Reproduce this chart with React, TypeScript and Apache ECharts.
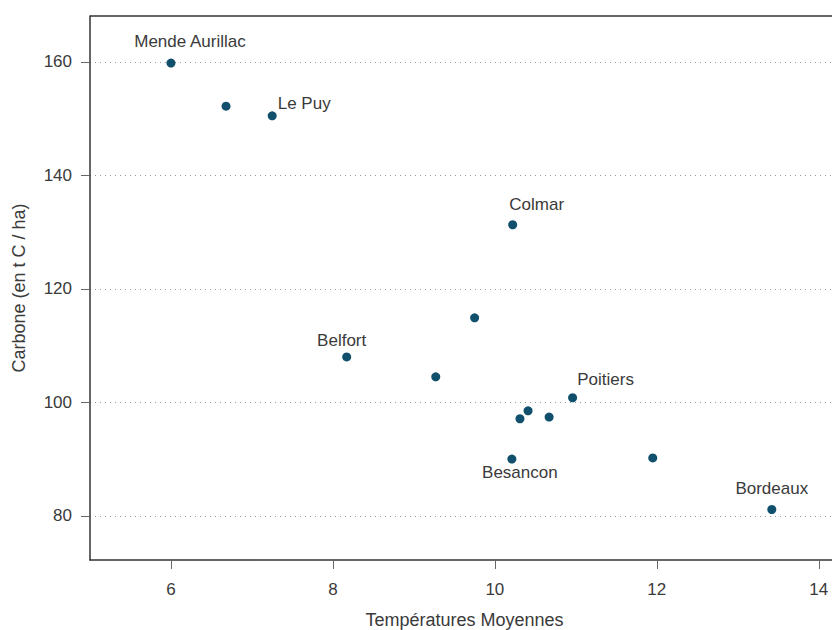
import React, { useEffect, useRef } from "react";
import * as echarts from "echarts";

const cityNames = [
  "Mende Aurillac", "", "Le Puy", "Colmar", "", "Belfort", "", "Poitiers",
  "", "", "", "Besancon", "", "Bordeaux",
];
const temperatures = [6.0, 6.68, 7.25, 10.22, 9.75, 8.17, 9.27, 10.96, 10.41, 10.31, 10.67, 10.21, 11.95, 13.42];
const carbone = [159.8, 152.2, 150.5, 131.3, 114.9, 108.0, 104.5, 100.8, 98.5, 97.1, 97.4, 90.0, 90.2, 81.1];
const xTicks = [6, 8, 10, 12, 14];
const yTicks = [80, 100, 120, 140, 160];
// label offsets (text centre relative to point), styling only
const labelOffsets: [number, number][] = [
  [19, -22], [0, 0], [32, -12], [24, -20], [0, 0], [-5, -16], [0, 0], [33, -18],
  [0, 0], [0, 0], [0, 0], [8, 13], [0, 0], [0, -21],
];

const FONT = "Arial, 'Liberation Sans', sans-serif";
const TEXT = "#3a3a3a";

export default function App() {
  const ref = useRef<HTMLDivElement>(null);
  useEffect(() => {
    document.body.style.margin = "0";
    if (!ref.current) return;
    const chart = echarts.init(ref.current, null, { renderer: "svg" });
    const data = temperatures.map((t, i) => ({
      value: [t, carbone[i]],
      name: cityNames[i],
      label: {
        show: cityNames[i] !== "",
        position: "inside",
        offset: labelOffsets[i],
        formatter: cityNames[i],
      },
    }));
    chart.setOption({
      animation: false,
      backgroundColor: "#ffffff",
      grid: {
        left: 90, top: 16, bottom: 70, width: 749,
        containLabel: false, outerBoundsMode: "none",
      },
      xAxis: {
        type: "value",
        min: 5,
        max: 14.25,
        name: "Températures Moyennes",
        nameLocation: "middle",
        nameGap: 51,
        nameTextStyle: { color: TEXT, fontSize: 18, fontFamily: FONT },
        axisLine: { show: true, lineStyle: { color: "#333", width: 1.5 } },
        axisTick: { show: true, length: 9, customValues: xTicks, lineStyle: { color: "#666" } },
        axisLabel: { customValues: xTicks, color: TEXT, fontSize: 17, fontFamily: FONT, margin: 21 },
        splitLine: { show: false },
      },
      yAxis: {
        type: "value",
        min: 72.2,
        max: 168.1,
        name: "Carbone (en t C / ha)",
        nameLocation: "middle",
        nameGap: 62,
        nameTextStyle: { color: TEXT, fontSize: 18, fontFamily: FONT },
        axisLine: { show: true, lineStyle: { color: "#333", width: 1.5 } },
        axisTick: { show: true, length: 9, customValues: yTicks, lineStyle: { color: "#666" } },
        axisLabel: { customValues: yTicks, color: TEXT, fontSize: 17, fontFamily: FONT, margin: 18 },
        splitLine: { show: true, lineStyle: { color: "#999", type: [1, 4], width: 1 } },
      },
      graphic: [
        {
          type: "line",
          shape: { x1: 90, y1: 16, x2: 839, y2: 16 },
          style: { stroke: "#333", lineWidth: 1.5 },
          silent: true,
        },
      ],
      series: [
        {
          type: "scatter",
          symbol: "circle",
          symbolSize: 9,
          itemStyle: { color: "#11506c", opacity: 1 },
          label: { color: TEXT, fontSize: 17, fontFamily: FONT, align: "center", verticalAlign: "middle" },
          data,
        },
      ],
    });
    return () => chart.dispose();
  }, []);
  return <div ref={ref} style={{ width: 832, height: 630 }} />;
}
